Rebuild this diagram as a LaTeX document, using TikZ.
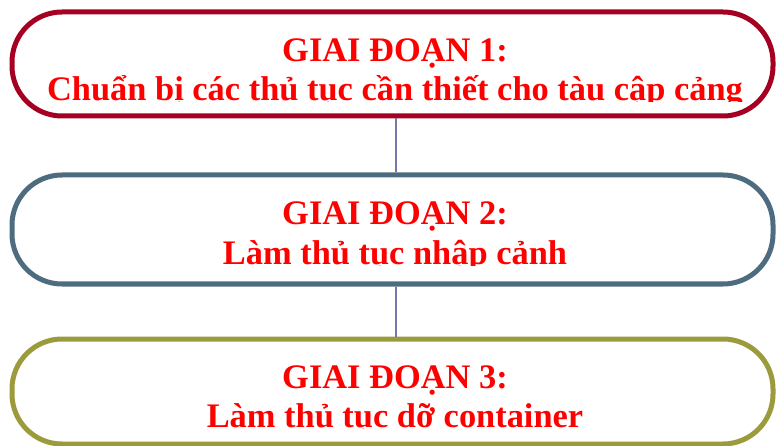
\documentclass[tikz,border=0pt]{standalone}
\usepackage{fontspec}
\setmainfont{Liberation Serif}
\definecolor{boxred}{RGB}{165,0,33}
\definecolor{boxblue}{RGB}{78,108,128}
\definecolor{boxolive}{RGB}{155,154,60}
\definecolor{txtred}{RGB}{255,0,0}
\definecolor{linkc}{RGB}{120,120,168}
\tikzset{
  stage/.style={draw, line width=5pt, rounded corners=50pt, fill=white, minimum width=761pt, inner sep=0pt, outer sep=2.5pt},
  stagetext/.style={text=txtred, font=\fontsize{34.4}{40}\selectfont\bfseries, anchor=base, inner sep=0pt},
  link/.style={draw=linkc, line width=1.3pt}
}
\begin{document}
\begin{tikzpicture}[x=1pt,y=-1pt]
\useasboundingbox (0,0) rectangle (776,446);
\node[stage, draw=boxred, minimum height=104pt] (s1) at (392.5,64) {};
\node[stage, draw=boxblue, minimum height=109pt] (s2) at (392.5,229.5) {};
\node[stage, draw=boxolive, minimum height=105pt] (s3) at (392.5,391.5) {};
\coordinate (lx) at (396,0);
\draw[link] (s1.south -| lx) -- (s2.north -| lx);
\draw[link] (s2.south -| lx) -- (s3.north -| lx);
\begin{scope}
\clip (0,0) rectangle (776,102);
\node[stagetext] (t1a) at (395,62) {GIAI ĐOẠN 1:};
\node[stagetext] (t1b) at (395,101) {Chuẩn bị các thủ tục cần thiết cho tàu cập cảng};
\end{scope}
\begin{scope}
\clip (0,130) rectangle (776,266);
\node[stagetext] (t2a) at (395,225) {GIAI ĐOẠN 2:};
\node[stagetext] (t2b) at (395,265) {Làm thủ tục nhập cảnh};
\end{scope}
\begin{scope}
\clip (0,300) rectangle (776,428);
\node[stagetext] (t3a) at (395,388) {GIAI ĐOẠN 3:};
\node[stagetext] (t3b) at (395,427) {Làm thủ tục dỡ container};
\end{scope}
\end{tikzpicture}
\end{document}
